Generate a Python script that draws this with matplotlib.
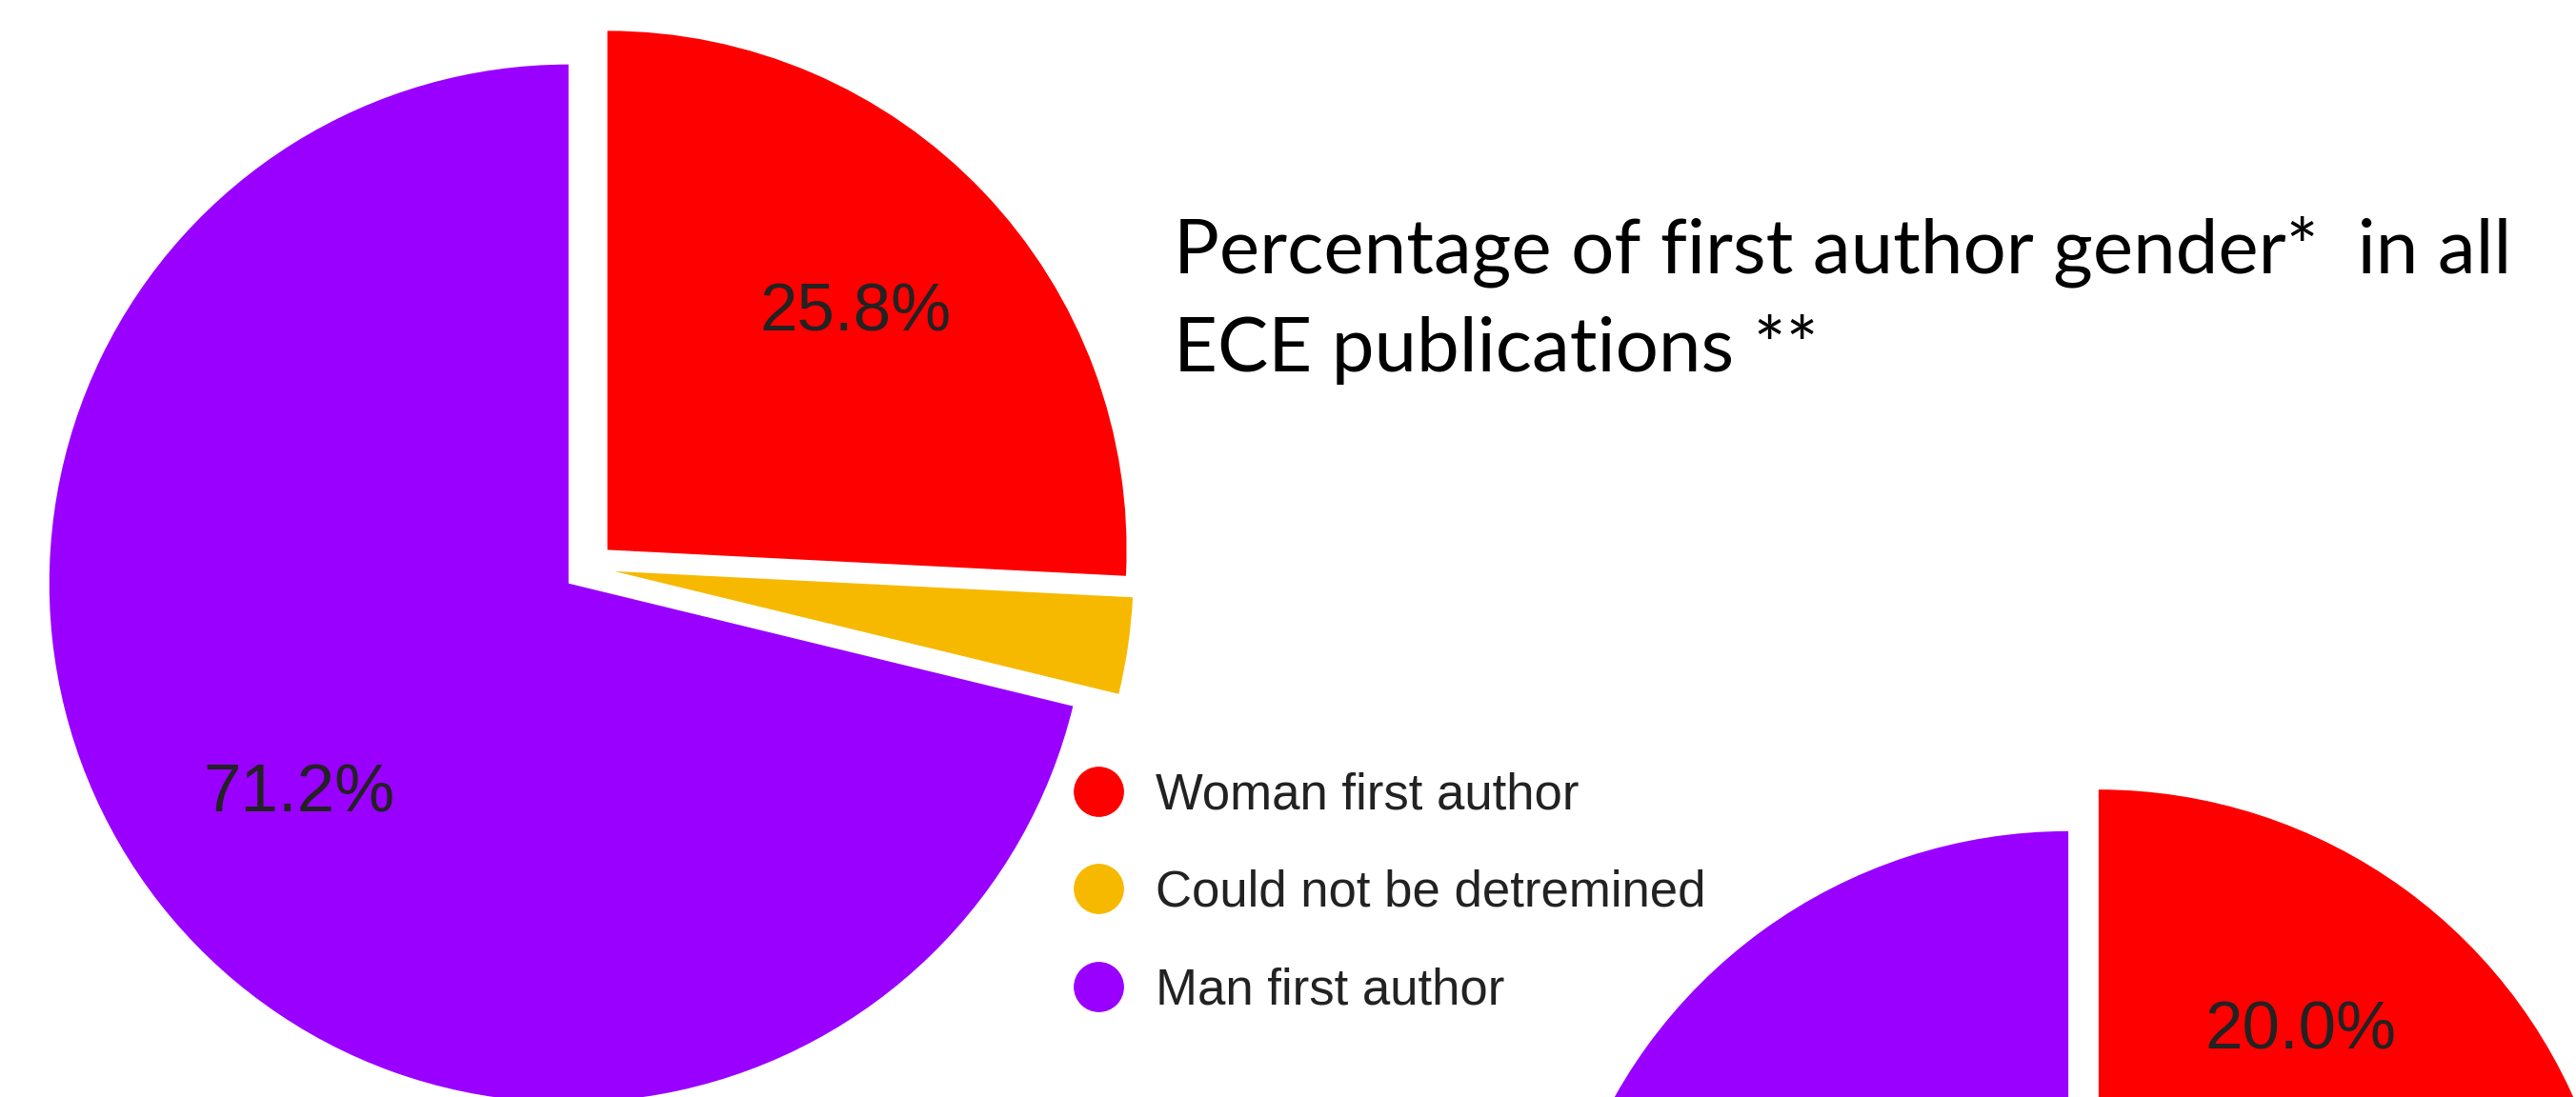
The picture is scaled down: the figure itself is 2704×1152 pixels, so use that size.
import matplotlib
matplotlib.use("Agg")
import matplotlib.pyplot as plt
from matplotlib.lines import Line2D

# first author gender across all ECE publications
labels = ["Woman first author", "Could not be detremined", "Man first author"]
all_pubs = [25.8, 3.0, 71.2]
colors = ["#FF0000", "#F7B900", "#9900FF"]

# second breakdown, only its top half sits on the slide
second_pubs = [20.0, 80.0]
second_colors = ["#FF0000", "#9900FF"]

title_lines = ["Percentage of first author gender*  in all", "ECE publications **"]

W, H = 2704, 1152
fig = plt.figure(figsize=(W / 100, H / 100), dpi=100)
ax = fig.add_axes([0, 0, 1, 1])


def pct_label(p):
    # small slices get no label
    return f"{p:.1f}%" if p >= 5 else ""


label_style = dict(fontsize=51, color="#222222", family="Liberation Sans")
gap = 27  # pie explode is in data units, not a fraction of the radius

ax.pie(all_pubs, colors=colors, startangle=90, counterclock=False,
       center=(618, 556), radius=545, explode=[gap] * len(all_pubs),
       autopct=pct_label, pctdistance=0.66, labeldistance=None,
       textprops=label_style, wedgeprops=dict(linewidth=0), frame=True)

_, _, pct_texts = ax.pie(second_pubs, colors=second_colors, startangle=90,
                         counterclock=False, center=(2187, -245), radius=546,
                         explode=[gap] * len(second_pubs), autopct=pct_label,
                         pctdistance=0.66, labeldistance=None,
                         textprops=label_style, wedgeprops=dict(linewidth=0),
                         frame=True)
# labels that land below the slide are dropped
for t in pct_texts:
    if t.get_position()[1] < 0:
        t.remove()

# title, two lines
for i, line in enumerate(title_lines):
    ax.text(1232, 866 - i * 104, line, fontsize=57.5, family="Lato",
            color="black", va="baseline", ha="left")

handles = [Line2D([], [], linestyle="none", marker="o", markersize=38,
                  markerfacecolor=c, markeredgewidth=0) for c in colors]
ax.legend(handles, labels, loc="upper left", bbox_to_anchor=(1127, 342),
          bbox_transform=ax.transData, frameon=False,
          prop=dict(family="Liberation Sans", size=38), labelcolor="#222222",
          handlelength=1.0, handletextpad=0.63, labelspacing=1.0,
          borderpad=0, borderaxespad=0)

ax.set_xlim(0, W)
ax.set_ylim(0, H)
ax.set_aspect("equal")
ax.axis("off")

fig.savefig("out.png", dpi=100, facecolor="white")
